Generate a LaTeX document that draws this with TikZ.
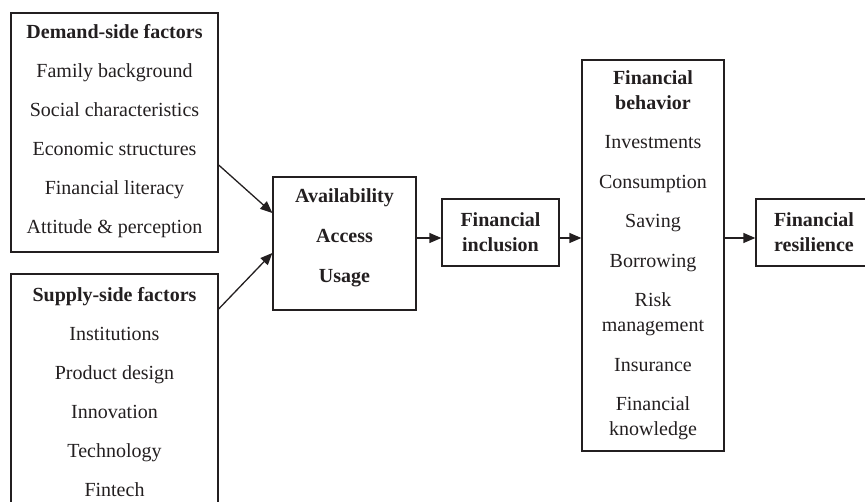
\documentclass[tikz,border=0pt]{standalone}
\usepackage{fontspec}
\setmainfont{Liberation Serif}
\usetikzlibrary{arrows.meta}
\definecolor{ink}{RGB}{35,31,32}
\begin{document}
\begin{tikzpicture}[x=1pt,y=1pt,
  boxframe/.style={draw=ink, line width=1.3pt, inner sep=0pt, rectangle},
  txt/.style={text=ink, align=center, inner sep=0pt, font=\fontsize{20}{25}\selectfont},
  arr/.style={draw=ink, line width=1.3pt, -{Triangle[length=12pt,width=10pt]}}]
\useasboundingbox (0,0) rectangle (865,502);
\clip (0,0) rectangle (865,502);
% boxes
\node[boxframe, minimum width=207pt, minimum height=239pt] (demand) at (114.5,369.5) {};
\node[boxframe, minimum width=207pt, minimum height=237pt] (supply) at (114.5,109.5) {};
\node[boxframe, minimum width=143pt, minimum height=133pt] (avail) at (344.5,258.5) {};
\node[boxframe, minimum width=117pt, minimum height=67pt] (incl) at (500.5,269.5) {};
\node[boxframe, minimum width=142pt, minimum height=391pt] (behav) at (653,246.5) {};
\node[boxframe, minimum width=116pt, minimum height=67pt] (resil) at (814,269.5) {};
% texts
\node[txt] (demandtxt) at (114.5,371) {\textbf{Demand-side factors}\\[14pt]Family background\\[14pt]Social characteristics\\[14pt]Economic structures\\[14pt]Financial literacy\\[14pt]Attitude \& perception};
\node[txt] (supplytxt) at (114.5,109.5) {\textbf{Supply-side factors}\\[14pt]Institutions\\[14pt]Product design\\[14pt]Innovation\\[14pt]Technology\\[14pt]Fintech};
\node[txt] (availtxt) at (344.5,264.5) {\textbf{Availability}\\[15pt]\textbf{Access}\\[15pt]\textbf{Usage}};
\node[txt] (incltxt) at (500.5,270) {\textbf{Financial}\\\textbf{inclusion}};
\node[txt] (behavtxt) at (653,247) {\textbf{Financial}\\\textbf{behavior}\\[14.5pt]Investments\\[14.5pt]Consumption\\[14.5pt]Saving\\[14.5pt]Borrowing\\[14.5pt]Risk\\management\\[14.5pt]Insurance\\[14.5pt]Financial\\knowledge};
\node[txt] (resiltxt) at (814,270) {\textbf{Financial}\\\textbf{resilience}};
% connectors
\coordinate (flow) at (0,264);
\draw[arr] ([yshift=-32.5pt]demand.east) -- ([yshift=30.5pt]avail.west);
\draw[arr] ([yshift=83.5pt]supply.east) -- ([yshift=-9.5pt]avail.west);
\draw[arr] (avail.east |- flow) -- (incl.west |- flow);
\draw[arr] (incl.east |- flow) -- (behav.west |- flow);
\draw[arr] (behav.east |- flow) -- (resil.west |- flow);
\end{tikzpicture}
\end{document}
